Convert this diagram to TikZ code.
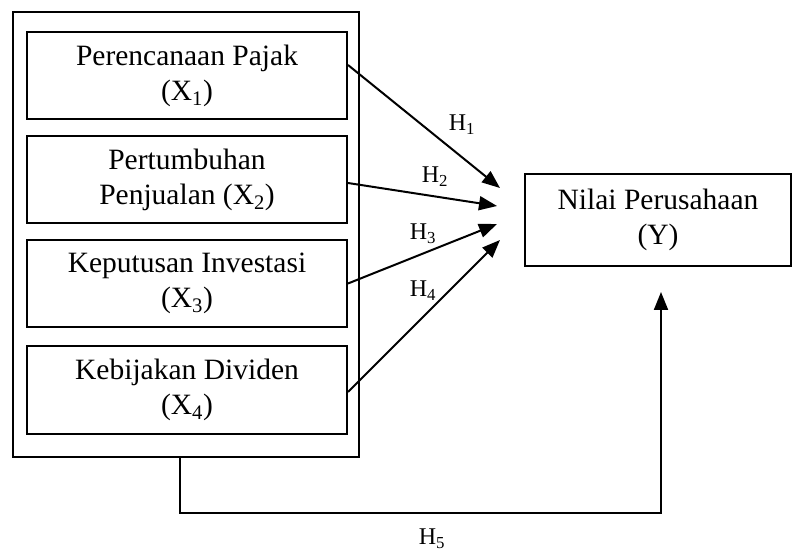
\documentclass[tikz,border=0pt]{standalone}
\usepackage{fontspec}
\setmainfont{Liberation Serif}
\usetikzlibrary{arrows.meta,calc}
\begin{document}
\begin{tikzpicture}[x=1pt,y=-1pt,
  box/.style={draw,line width=2pt,minimum width=320pt,minimum height=87pt,align=center,inner sep=0pt,
    font=\fontsize{29.5}{35}\selectfont},
  conn/.style={line width=2pt,-{Triangle[length=18pt,width=14pt]}},
  hlab/.style={font=\fontsize{24}{27}\selectfont,inner sep=0pt}]
\useasboundingbox (0,0) rectangle (793,553);
\node[draw,line width=2pt,minimum width=346pt,minimum height=445pt,inner sep=0pt] (outer) at (186,234.5) {};
\node[box] (b1) at (187,76) {Perencanaan Pajak\\(X\textsubscript{1})};
\node[box] (b2) at (187,179.5) {Pertumbuhan\\Penjualan (X\textsubscript{2})};
\node[box] (b3) at (187,283.5) {Keputusan Investasi\\(X\textsubscript{3})};
\node[box] (b4) at (187,390) {Kebijakan Dividen\\(X\textsubscript{4})};
\node[box,minimum width=266pt,minimum height=92pt] (y) at (658,220) {Nilai Perusahaan\\(Y)};
\coordinate (t1) at (500,188);
\coordinate (t2) at (497,206);
\coordinate (t3) at (497,224);
\coordinate (t4) at (500,240);
\coordinate (t5) at (661,292);
\draw[conn] ($(b1.east)+(0,-11)$) -- (t1);
\draw[conn] ($(b2.east)+(0,3.5)$) -- (t2);
\draw[conn] ($(b3.east)+(0,0)$) -- (t3);
\draw[conn] ($(b4.east)+(0,2)$) -- (t4);
\draw[conn] ($(outer.south)+(-6,0)$) -- ++(0,55) -| (t5);
\node[hlab] (h1) at (462,125) {H\textsubscript{1}};
\node[hlab] (h2) at (435,177) {H\textsubscript{2}};
\node[hlab] (h3) at (423,234) {H\textsubscript{3}};
\node[hlab] (h4) at (423,291) {H\textsubscript{4}};
\node[hlab] (h5) at (432,539) {H\textsubscript{5}};
\end{tikzpicture}
\end{document}
